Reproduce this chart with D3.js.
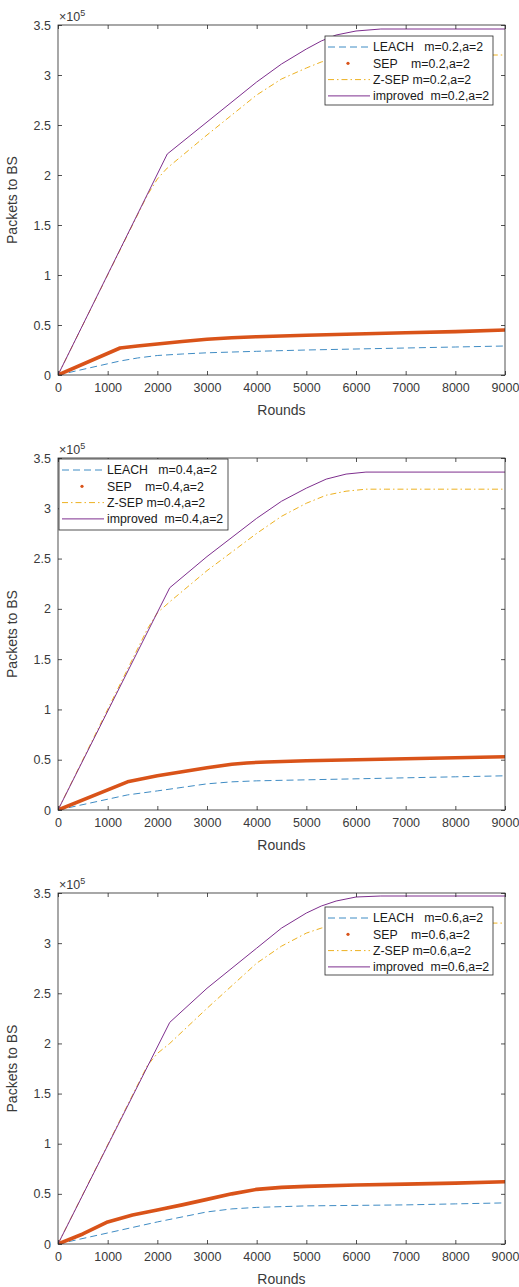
<!DOCTYPE html>
<html>
<head>
<meta charset="utf-8">
<script src="https://cdn.jsdelivr.net/npm/d3@7/dist/d3.min.js"></script>
<style>
  html, body { margin: 0; padding: 0; background: #fff; }
  svg { display: block; font-family: "Liberation Sans", Arial, Helvetica, sans-serif; }
</style>
</head>
<body>
<svg id="chart" width="519" height="1287"></svg>
<script>
// ---------- data ----------
const seriesNames = ["LEACH", "SEP", "Z-SEP", "improved"];
const panelLabels = ["m=0.2,a=2", "m=0.4,a=2", "m=0.6,a=2"];
const xTicks = [0, 1000, 2000, 3000, 4000, 5000, 6000, 7000, 8000, 9000];
const yTicks = [0, 0.5, 1, 1.5, 2, 2.5, 3, 3.5];   // ×10^5

// Panel 1 (m=0.2)
const leach1 = [[0,0],[1250,0.14],[1600,0.17],[2000,0.195],[2500,0.21],[3000,0.222],[4000,0.237],[5000,0.25],[6000,0.26],[7000,0.27],[8000,0.28],[9000,0.29]];
const sep1 = [[0,0],[1250,0.27],[1600,0.29],[2000,0.31],[2500,0.335],[3000,0.357],[3500,0.372],[4000,0.383],[5000,0.397],[6000,0.41],[7000,0.423],[8000,0.434],[9000,0.45]];
const zsep1 = [[0,0],[1800,1.8],[2000,1.96],[2200,2.07],[3000,2.4],[4000,2.8],[4500,2.96],[5000,3.07],[5300,3.13],[5600,3.17],[6000,3.19],[6500,3.2],[9000,3.2]];
const improved1 = [[0,0],[2200,2.21],[3000,2.53],[4000,2.93],[4500,3.11],[5000,3.26],[5300,3.34],[5600,3.4],[6000,3.44],[6500,3.46],[9000,3.46]];

// Panel 2 (m=0.4)
const leach2 = [[0,0],[1400,0.15],[2000,0.19],[2500,0.225],[3000,0.26],[3500,0.28],[4000,0.29],[5000,0.30],[6000,0.31],[7000,0.32],[8000,0.33],[9000,0.34]];
const sep2 = [[0,0],[1400,0.28],[2000,0.34],[2500,0.38],[3000,0.42],[3500,0.455],[3800,0.468],[4200,0.478],[5000,0.49],[6000,0.50],[7000,0.51],[8000,0.52],[9000,0.53]];
const zsep2 = [[0,0],[1800,1.8],[2000,1.96],[2250,2.07],[3000,2.38],[4000,2.75],[4500,2.92],[5000,3.05],[5400,3.13],[5800,3.17],[6200,3.19],[6600,3.19],[9000,3.19]];
const improved2 = [[0,0],[2250,2.21],[3000,2.52],[4000,2.9],[4500,3.07],[5000,3.2],[5400,3.29],[5800,3.34],[6200,3.36],[9000,3.36]];

// Panel 3 (m=0.6)
const leach3 = [[0,0],[1000,0.11],[2000,0.22],[2500,0.27],[3000,0.32],[3500,0.35],[4000,0.365],[5000,0.38],[6000,0.385],[7000,0.39],[8000,0.40],[9000,0.41]];
const sep3 = [[0,0],[500,0.1],[1000,0.22],[1500,0.29],[2000,0.34],[2500,0.39],[3000,0.445],[3500,0.50],[4000,0.545],[4500,0.565],[5000,0.575],[6000,0.588],[7000,0.597],[8000,0.607],[9000,0.62]];
const zsep3 = [[0,0],[1800,1.78],[2000,1.9],[2250,2.0],[3000,2.35],[4000,2.8],[4500,2.97],[5000,3.1],[5300,3.15],[5600,3.18],[6000,3.2],[6500,3.2],[9000,3.2]];
const improved3 = [[0,0],[2250,2.21],[3000,2.55],[4000,2.95],[4500,3.15],[5000,3.3],[5300,3.37],[5600,3.42],[6000,3.46],[6500,3.47],[9000,3.47]];

const panelData = [
  [leach1, sep1, zsep1, improved1],
  [leach2, sep2, zsep2, improved2],
  [leach3, sep3, zsep3, improved3]
];

// ---------- layout & style ----------
const left = 58, right = 505;
const tops = [25, 458, 893], bottoms = [375, 810, 1244];
const legendPos = [
  {x: 325, y: 36, w: 168, h: 69},
  {x: 59, y: 459, w: 169, h: 71},
  {x: 325, y: 907, w: 168, h: 68}
];
const legendText = [
  n => "LEACH   " + n,
  n => "SEP    " + n,
  n => "Z-SEP " + n,
  n => "improved  " + n
];
const styles = [
  {color: "#3f8cc4", width: 1, dash: "7,4"},
  {color: "#D95319", width: 3.6, dash: null},
  {color: "#EDB120", width: 1, dash: "6,3,1.5,3"},
  {color: "#7E2F8E", width: 1, dash: null}
];
const axisColor = "#262626", textColor = "#3a3a3a";

const svg = d3.select("#chart");

panelData.forEach((series, p) => {
  const x = d3.scaleLinear().domain([0, 9000]).range([left, right]);
  const y = d3.scaleLinear().domain([0, 3.5]).range([bottoms[p], tops[p]]);
  const g = svg.append("g");

  const clipId = "clip" + p;
  svg.append("clipPath").attr("id", clipId).append("rect")
    .attr("x", left).attr("y", tops[p]).attr("width", right - left).attr("height", bottoms[p] - tops[p]);

  const line = d3.line().x(d => x(d[0])).y(d => y(d[1])).curve(d3.curveLinear);

  const lines = g.append("g").attr("clip-path", `url(#${clipId})`);
  series.forEach((s, i) => {
    const st = styles[i];
    lines.append("path").datum(s)
      .attr("d", line)
      .attr("fill", "none")
      .attr("stroke", st.color)
      .attr("stroke-width", st.width)
      .attr("stroke-linejoin", "round")
      .attr("stroke-linecap", i === 1 ? "round" : "butt")
      .attr("stroke-dasharray", st.dash);
  });

  const tickLen = 4;
  const ax = g.append("g").attr("stroke", axisColor).attr("stroke-width", 0.8).attr("fill", "none");
  ax.append("rect").attr("x", left).attr("y", tops[p]).attr("width", right - left).attr("height", bottoms[p] - tops[p]);

  const xb = g.append("g").attr("transform", `translate(0,${bottoms[p]})`)
    .call(d3.axisBottom(x).tickValues(xTicks).tickSize(-tickLen).tickPadding(8).tickFormat(d3.format("d")));
  const xt = g.append("g").attr("transform", `translate(0,${tops[p]})`)
    .call(d3.axisTop(x).tickValues(xTicks).tickSize(-tickLen).tickFormat(""));
  const yl = g.append("g").attr("transform", `translate(${left},0)`)
    .call(d3.axisLeft(y).tickValues(yTicks).tickSize(-tickLen).tickPadding(7).tickFormat(d => d3.format("")(d)));
  const yr = g.append("g").attr("transform", `translate(${right},0)`)
    .call(d3.axisRight(y).tickValues(yTicks).tickSize(-tickLen).tickFormat(""));
  [xb, xt, yl, yr].forEach(a => {
    a.select(".domain").remove();
    a.selectAll("line").attr("stroke", axisColor).attr("stroke-width", 0.8);
    a.selectAll("text").attr("fill", textColor).style("font-size", "12.5px")
      .style("font-family", '"Liberation Sans", Arial, sans-serif');
  });
  xb.selectAll("text").attr("dy", "0.71em");

  const ex = g.append("text").attr("x", left + 1).attr("y", tops[p] - 4)
    .attr("fill", textColor).style("font-size", "12.5px");
  ex.append("tspan").text("×10");
  ex.append("tspan").attr("dy", -5).style("font-size", "9px").text("5");

  g.append("text").attr("x", (left + right) / 2).attr("y", bottoms[p] + 40)
    .attr("text-anchor", "middle").attr("fill", textColor).style("font-size", "14px").text("Rounds");
  g.append("text")
    .attr("transform", `translate(17,${(tops[p] + bottoms[p]) / 2}) rotate(-90)`)
    .attr("text-anchor", "middle").attr("fill", textColor).style("font-size", "14px").text("Packets to BS");

  const L = legendPos[p];
  const lg = g.append("g");
  lg.append("rect").attr("x", L.x).attr("y", L.y).attr("width", L.w).attr("height", L.h)
    .attr("fill", "#fff").attr("stroke", axisColor).attr("stroke-width", 0.8);
  seriesNames.forEach((name, i) => {
    const cy = L.y + 11 + i * 16.3;
    const st = styles[i];
    if (i === 1) {
      lg.append("circle").attr("cx", L.x + 23).attr("cy", cy).attr("r", 1.6).attr("fill", st.color);
    } else {
      lg.append("line").attr("x1", L.x + 3).attr("x2", L.x + 45).attr("y1", cy).attr("y2", cy)
        .attr("stroke", st.color).attr("stroke-width", st.width).attr("stroke-dasharray", st.dash);
    }
    lg.append("text").attr("x", L.x + 48).attr("y", cy).attr("dy", "0.35em")
      .attr("fill", "#1a1a1a").style("font-size", "12.3px").style("white-space", "pre")
      .attr("xml:space", "preserve")
      .text(legendText[i](panelLabels[p]));
  });
});
</script>
</body>
</html>
